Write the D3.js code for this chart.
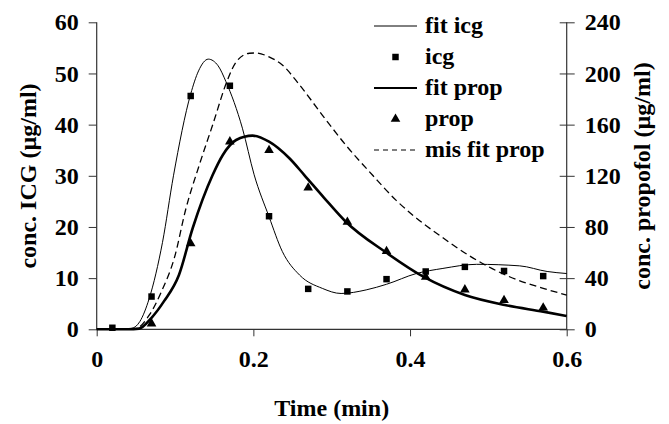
<!DOCTYPE html>
<html>
<head>
<meta charset="utf-8">
<script src="https://cdn.jsdelivr.net/npm/d3@7"></script>
<style>
  body { margin: 0; background: #fff; }
  text { font-family: "Liberation Serif", "Times New Roman", serif; font-weight: bold; fill: #000; }
</style>
</head>
<body>
<div id="chart"></div>
<script>
// measured icg samples (left axis)
var icgTime = [0.02, 0.07, 0.12, 0.17, 0.22, 0.27, 0.32, 0.37, 0.42, 0.47, 0.52, 0.57];
var icgConc = [0.3, 6.4, 45.6, 47.6, 22.1, 7.9, 7.4, 9.8, 11.3, 12.2, 11.4, 10.4];

// measured propofol samples (right axis)
var propTime = [0.07, 0.12, 0.17, 0.22, 0.27, 0.32, 0.37, 0.42, 0.47, 0.52, 0.57];
var propConc = [4.4, 67, 146.7, 140, 110.7, 83.9, 61, 40.9, 31, 22.7, 16.9];

// fitted curves
var fitIcgTime = [0, 0.03, 0.045, 0.055, 0.067, 0.084, 0.098, 0.12, 0.13, 0.1425, 0.155, 0.165, 0.186, 0.201, 0.22, 0.237, 0.259, 0.288, 0.312, 0.344, 0.37, 0.408, 0.442, 0.485, 0.54, 0.575, 0.6];
var fitIcgConc = [0, 0, 0.2, 1.5, 6, 17, 30, 46, 50.5, 52.8, 51.5, 48.4, 39.3, 30.2, 22, 15.2, 10.6, 8, 7, 7.7, 8.8, 10.9, 11.9, 12.7, 12.4, 11.3, 10.9];

var fitPropTime = [0, 0.04, 0.054, 0.07, 0.086, 0.105, 0.1225, 0.148, 0.161, 0.178, 0.199, 0.22, 0.246, 0.265, 0.29, 0.318, 0.369, 0.417, 0.47, 0.521, 0.57, 0.6];
var fitPropConc = [0, 0, 0.5, 9, 22, 42.5, 79, 120.6, 136.3, 148, 151.4, 146.7, 133.7, 120.6, 103, 84.1, 60.2, 41.1, 26.8, 19, 13.8, 10.4];

var misPropTime = [0, 0.04, 0.05, 0.067, 0.083, 0.099, 0.114, 0.131, 0.148, 0.167, 0.178, 0.195, 0.203, 0.22, 0.237, 0.259, 0.288, 0.318, 0.352, 0.382, 0.404, 0.442, 0.477, 0.527, 0.57, 0.6];
var misPropConc = [0, 0, 0.5, 11, 30, 55.5, 94.6, 128.5, 159.7, 195, 209, 215.8, 216, 213, 206.6, 191, 167.5, 144, 120.6, 101, 89, 71.5, 57, 41.1, 32, 26.8];

var xTicks = [0, 0.2, 0.4, 0.6];
var leftTicks = [0, 10, 20, 30, 40, 50, 60];
var rightTicks = [0, 40, 80, 120, 160, 200, 240];

var legendNames = ["fit icg", "icg", "fit prop", "prop", "mis fit prop"];

var svgWidth = 669, svgHeight = 424;
var margin = {top: 22.3, right: 102.3, bottom: 94.7, left: 96.7};
var width = svgWidth - margin.left - margin.right;
var height = svgHeight - margin.top - margin.bottom;

var svg = d3.select("#chart").append("svg")
  .attr("width", svgWidth)
  .attr("height", svgHeight);

var g = svg.append("g")
  .attr("transform", `translate(${margin.left}, ${margin.top})`);

var x = d3.scaleLinear().domain([0, 0.6]).range([0, width]);
var yL = d3.scaleLinear().domain([0, 60]).range([height, 0]);
var yR = d3.scaleLinear().domain([0, 240]).range([height, 0]);

// axes
var xAxis = g.append("g")
  .attr("transform", `translate(0, ${height})`)
  .call(d3.axisBottom(x).tickValues(xTicks).tickSize(7).tickPadding(14).tickFormat(d => d === 0 ? "0" : d3.format(".1f")(d)));

var leftAxis = g.append("g")
  .call(d3.axisLeft(yL).tickValues(leftTicks).tickSize(8).tickPadding(10).tickFormat(d3.format("d")));

var rightAxis = g.append("g")
  .attr("transform", `translate(${width}, 0)`)
  .call(d3.axisRight(yR).tickValues(rightTicks).tickSize(8).tickPadding(10).tickFormat(d3.format("d")));

// right ticks cross the axis
rightAxis.selectAll(".tick line").attr("x1", -7);

[xAxis, leftAxis, rightAxis].forEach(function(a) {
  a.select(".domain").attr("stroke", "#333").attr("stroke-width", 1.2);
  a.selectAll(".tick line").attr("stroke", "#333");
  a.selectAll(".tick text")
    .style("font-family", "'Liberation Serif', serif")
    .style("font-weight", "bold")
    .style("font-size", "24px")
    .attr("fill", "#000");
});
xAxis.select(".domain").attr("d", `M0,0H${width}`);
leftAxis.select(".domain").attr("d", `M0,0V${height}`);
rightAxis.select(".domain").attr("d", `M0,0V${height}`);

// curves
var lineIcg = d3.line().x(d => x(d[0])).y(d => yL(d[1])).curve(d3.curveMonotoneX);
var lineProp = d3.line().x(d => x(d[0])).y(d => yR(d[1])).curve(d3.curveMonotoneX);

g.append("path")
  .datum(d3.zip(fitIcgTime, fitIcgConc))
  .attr("d", lineIcg)
  .attr("fill", "none")
  .attr("stroke", "#000")
  .attr("stroke-width", 1);

g.append("path")
  .datum(d3.zip(misPropTime, misPropConc))
  .attr("d", lineProp)
  .attr("fill", "none")
  .attr("stroke", "#000")
  .attr("stroke-width", 1.3)
  .attr("stroke-dasharray", "7,4");

g.append("path")
  .datum(d3.zip(fitPropTime, fitPropConc))
  .attr("d", lineProp)
  .attr("fill", "none")
  .attr("stroke", "#000")
  .attr("stroke-width", 2.6);

// points
var square = d3.symbol().type(d3.symbolSquare).size(42);
var triangle = d3.symbol().type(d3.symbolTriangle).size(40);

g.selectAll(".icg")
  .data(d3.zip(icgTime, icgConc))
  .enter()
  .append("path")
  .attr("class", "icg")
  .attr("d", square)
  .attr("transform", d => `translate(${x(d[0])}, ${yL(d[1])})`)
  .attr("fill", "#000");

g.selectAll(".prop")
  .data(d3.zip(propTime, propConc))
  .enter()
  .append("path")
  .attr("class", "prop")
  .attr("d", triangle)
  .attr("transform", d => `translate(${x(d[0])}, ${yR(d[1])})`)
  .attr("fill", "#000");

// legend
var legend = svg.append("g").attr("transform", "translate(374, 26)");
var rowGap = 31;
legendNames.forEach(function(name, i) {
  var row = legend.append("g").attr("transform", `translate(0, ${i * rowGap})`);
  if (i === 0) {
    row.append("line").attr("x1", 0).attr("x2", 43).attr("stroke", "#000").attr("stroke-width", 1);
  } else if (i === 1) {
    row.append("path").attr("d", square).attr("transform", "translate(21.5, 0)").attr("fill", "#000");
  } else if (i === 2) {
    row.append("line").attr("x1", 0).attr("x2", 43).attr("stroke", "#000").attr("stroke-width", 2.2);
  } else if (i === 3) {
    row.append("path").attr("d", triangle).attr("transform", "translate(21.5, 0)").attr("fill", "#000");
  } else {
    row.append("line").attr("x1", 0).attr("x2", 43).attr("stroke", "#000").attr("stroke-width", 1.2).attr("stroke-dasharray", "5,4");
  }
  row.append("text")
    .attr("x", 51)
    .attr("y", 7)
    .style("font-size", "24px")
    .text(name);
});

// axis titles
svg.append("text")
  .attr("transform", "translate(35.5, 176) rotate(-90)")
  .attr("text-anchor", "middle")
  .style("font-size", "24px")
  .text("conc. ICG (µg/ml)");

svg.append("text")
  .attr("transform", "translate(650, 176) rotate(-90)")
  .attr("text-anchor", "middle")
  .style("font-size", "24px")
  .text("conc. propofol (µg/ml)");

svg.append("text")
  .attr("x", (margin.left + margin.left + width) / 2)
  .attr("y", 416)
  .attr("text-anchor", "middle")
  .style("font-size", "24px")
  .text("Time (min)");
</script>
</body>
</html>
